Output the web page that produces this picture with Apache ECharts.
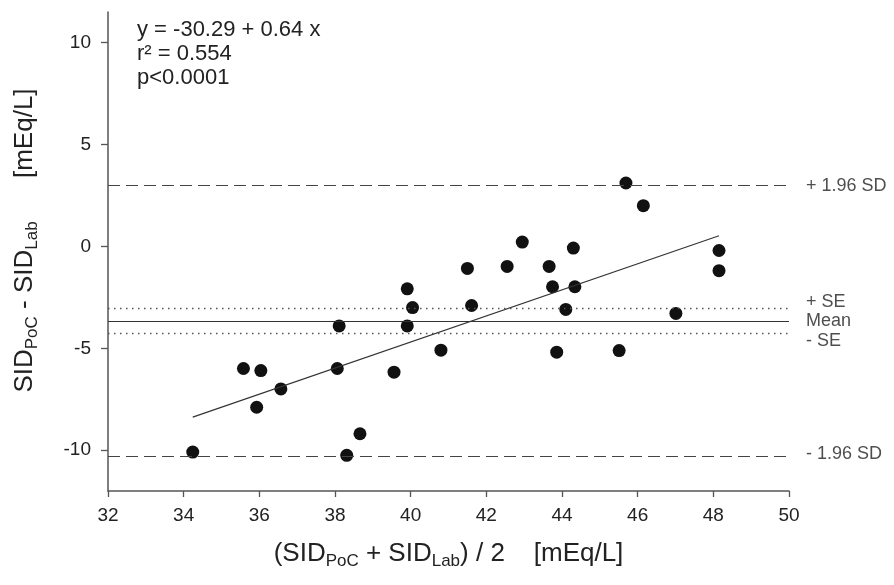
<!DOCTYPE html>
<html>
<head>
<meta charset="utf-8">
<title>SID Bland-Altman</title>
<script src="https://cdn.jsdelivr.net/npm/echarts@6/dist/echarts.min.js"></script>
<style>
  html, body { margin: 0; padding: 0; background: #fff; }
  #chart { width: 894px; height: 585px; }
</style>
</head>
<body>
<div id="chart"></div>
<script>
// mean of the two methods (x) and their difference (y)
var pointX = [34.24, 35.58, 36.04, 35.93, 36.57, 38.06, 38.11, 38.31, 38.66, 39.56,
              39.91, 40.05, 39.91, 40.80, 41.50, 41.61, 42.55, 42.95, 43.66, 43.75,
              44.30, 44.34, 44.10, 43.86, 45.69, 46.15, 48.15, 48.15, 47.01, 45.51];
var pointY = [-10.09, -5.99, -6.09, -7.89, -6.99, -5.99, -3.90, -10.25, -9.19, -6.17,
              -2.08, -3.00, -3.90, -5.09, -1.08, -2.90, -0.98, 0.21, -0.98, -1.98,
              -0.08, -1.98, -3.09, -5.19, 3.11, 2.00, -0.20, -1.19, -3.29, -5.11];

// regression
var fitIntercept = -30.29;
var fitSlope = 0.64;
var rSquared = '0.554';
var pValue = 'p<0.0001';

// limits of agreement
var refValues = [2.98, -3.05, -3.66, -4.26, -10.29];
var refLabels = ['+ 1.96 SD', '+ SE', 'Mean', '- SE', '- 1.96 SD'];
var refKinds  = ['dashed', 'dotted', 'solid', 'dotted', 'dashed'];

var xTicks = [32, 50, 2];          // min, max, interval
var yTickValues = [-10, -5, 0, 5, 10];
var yRange = [-12, 11.5];

var FONT = '"Liberation Sans", Arial, sans-serif';
var chart = echarts.init(document.getElementById('chart'));

var points = pointX.map(function (x, i) { return [x, pointY[i]]; });
var xLo = Math.min.apply(null, pointX);
var xHi = Math.max.apply(null, pointX);
var fitLine = [[xLo, fitIntercept + fitSlope * xLo], [xHi, fitIntercept + fitSlope * xHi]];

// small vertical nudges so the three middle labels don't collide
var labelShift = { '+ SE': -7, 'Mean': 0, '- SE': 8, '- 1.96 SD': -2 };

var refLines = refValues.map(function (v, i) {
  var kind = refKinds[i];
  var style = { color: '#333', width: 1.2, type: 'solid' };
  if (kind === 'dashed') style = { color: '#444', width: 1.2, type: [12, 6] };
  if (kind === 'dotted') style = { color: '#555', width: 1.3, type: [1.5, 4.5] };
  return { yAxis: v, lineStyle: style };
});

// labels sit at the right end of each line
var refLabelPoints = refValues.map(function (v, i) {
  return {
    value: [xTicks[1], v],
    label: { formatter: refLabels[i], offset: [0, labelShift[refLabels[i]] || 0] }
  };
});

var titleRich = {
  m: { fontSize: 26, lineHeight: 32, fontFamily: FONT, color: '#222' },
  s: { fontSize: 17, lineHeight: 17, fontFamily: FONT, color: '#222', verticalAlign: 'bottom' }
};

chart.setOption({
  animation: false,
  backgroundColor: '#fff',
  textStyle: { fontFamily: FONT },
  grid: { left: 108, right: 105, top: 12, bottom: 94, outerBoundsMode: 'none' },
  xAxis: {
    type: 'value',
    min: xTicks[0],
    max: xTicks[1],
    interval: xTicks[2],
    axisLine: { show: true, onZero: false, lineStyle: { color: '#555', width: 1.5 } },
    axisTick: { show: true, inside: false, length: 6, lineStyle: { color: '#555', width: 1.3 } },
    axisLabel: { margin: 15, fontSize: 19, color: '#222', fontFamily: FONT },
    splitLine: { show: false },
    name: '{m|(SID}{s|PoC}{m| + SID}{s|Lab}{m|) / 2    [mEq/L]}',
    nameLocation: 'middle',
    nameGap: 47,
    nameTextStyle: { rich: titleRich }
  },
  yAxis: {
    type: 'value',
    min: yRange[0],
    max: yRange[1],
    axisLine: { show: true, onZero: false, lineStyle: { color: '#555', width: 1.5 } },
    axisTick: { show: true, inside: false, length: 7, customValues: yTickValues,
                lineStyle: { color: '#555', width: 1.3 } },
    axisLabel: { margin: 17, fontSize: 19, color: '#222', fontFamily: FONT,
                 customValues: yTickValues },
    splitLine: { show: false },
    name: '{m|SID}{s|PoC}{m| - SID}{s|Lab}{m|      [mEq/L]}',
    nameLocation: 'middle',
    nameGap: 67,
    nameTextStyle: { rich: titleRich, padding: [0, 0, 0, 22] }
  },
  graphic: [{
    type: 'text',
    left: 137,
    top: 18,
    style: {
      text: 'y = ' + fitIntercept.toFixed(2) + ' + ' + fitSlope.toFixed(2) + ' x\nr\u00b2 = ' + rSquared + '\n' + pValue,
      font: '22px ' + FONT,
      lineHeight: 24,
      fill: '#222'
    }
  }],
  series: [
    {
      name: 'limits',
      type: 'line',
      data: [],
      silent: true,
      markLine: {
        silent: true,
        symbol: 'none',
        animation: false,
        label: { show: false },
        data: refLines
      }
    },
    {
      name: 'limit labels',
      type: 'scatter',
      data: refLabelPoints,
      symbolSize: 0,
      silent: true,
      label: { show: true, position: 'right', distance: 17, fontSize: 18, color: '#222', fontFamily: FONT }
    },
    {
      name: 'fit',
      type: 'line',
      data: fitLine,
      symbol: 'none',
      silent: true,
      lineStyle: { color: '#333', width: 1.1 }
    },
    {
      name: 'points',
      type: 'scatter',
      data: points,
      symbol: 'circle',
      symbolSize: 13,
      itemStyle: { color: '#111', opacity: 1 }
    }
  ]
});
</script>
</body>
</html>
